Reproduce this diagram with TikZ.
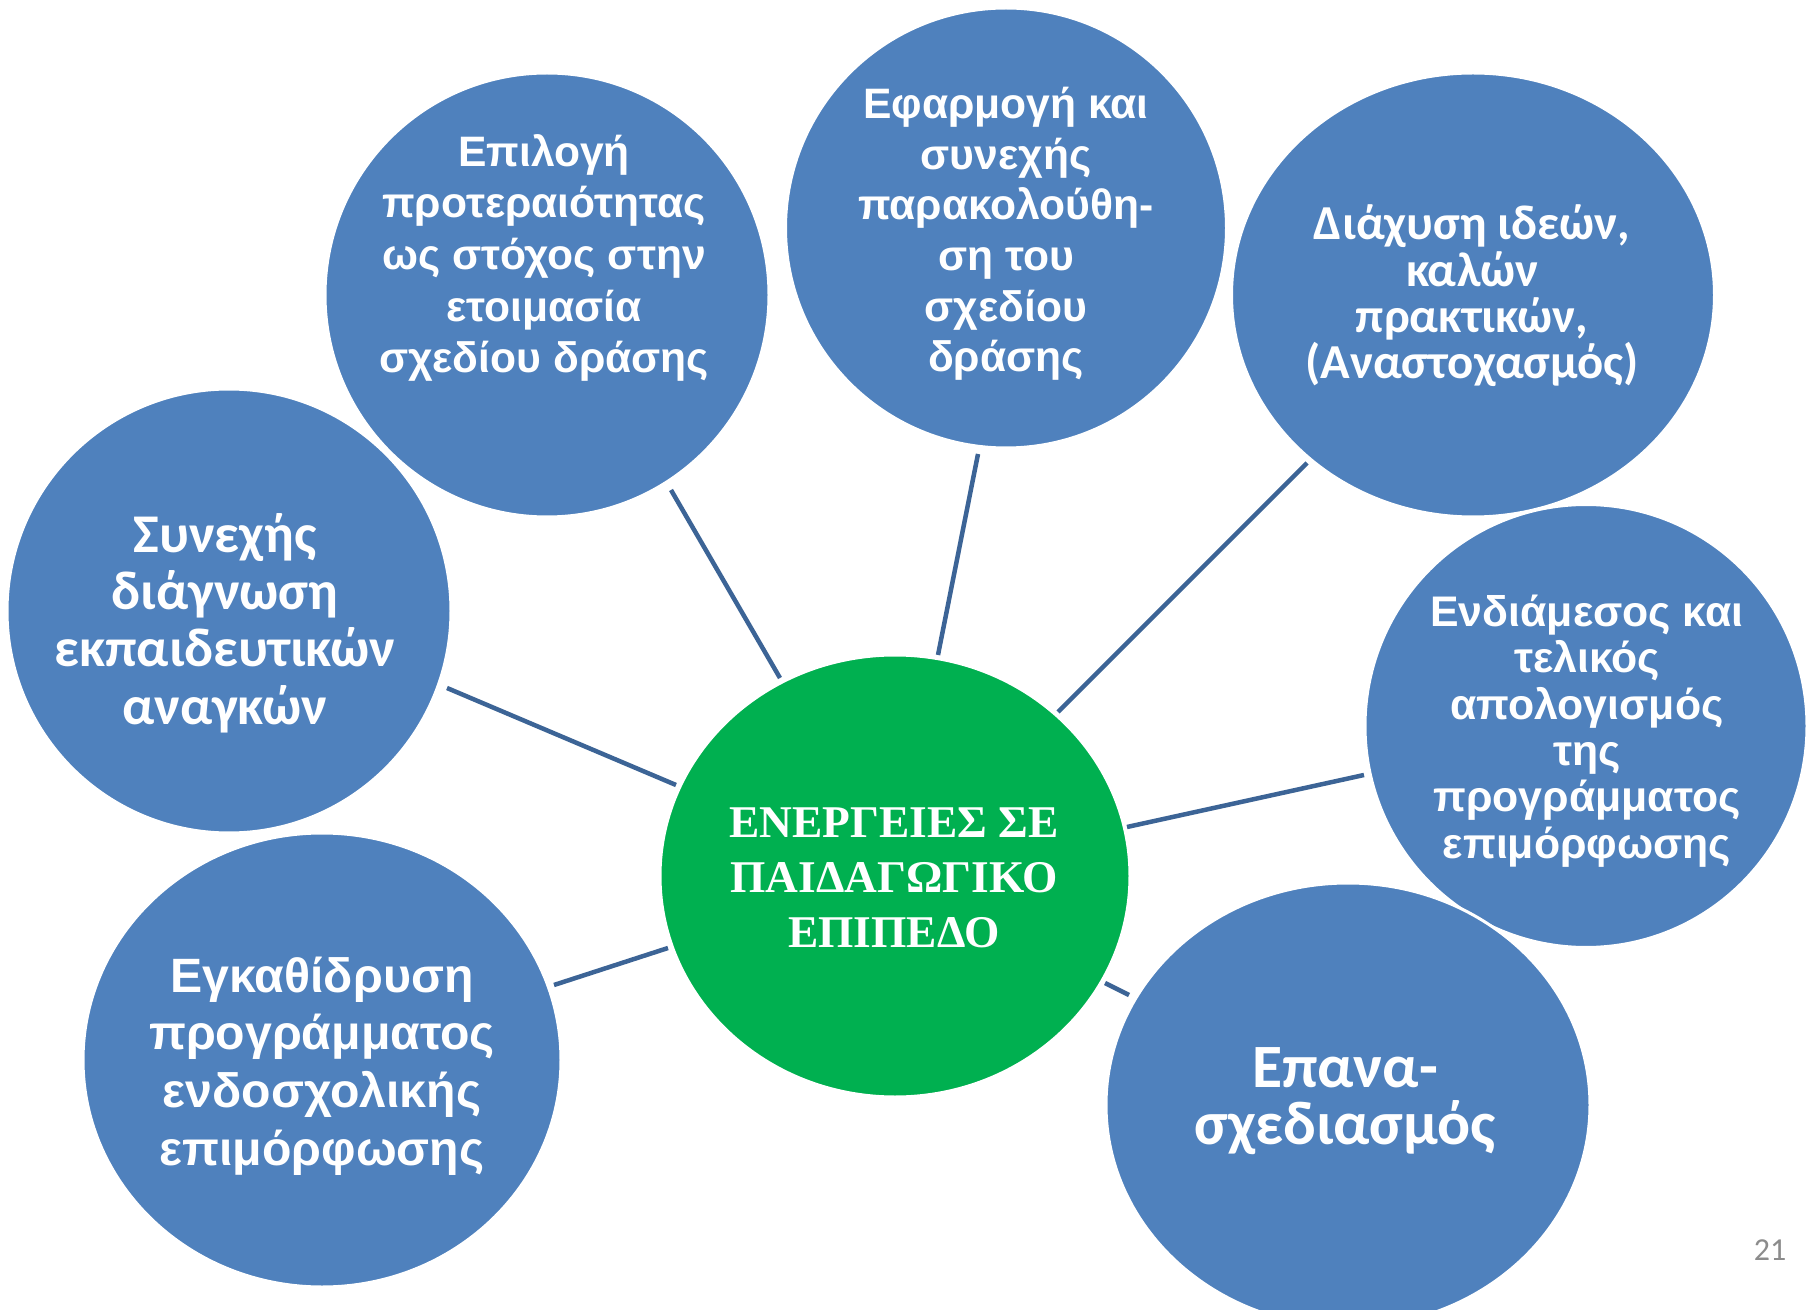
\documentclass[tikz,border=0pt]{standalone}
\usepackage{fontspec}
\setmainfont{Liberation Sans}
\newfontfamily\calib{Carlito}
\newfontfamily\timesf{Liberation Serif}
\usetikzlibrary{shapes.geometric}
\definecolor{bub}{HTML}{4F81BD}
\definecolor{grn}{HTML}{00B050}
\definecolor{lnk}{HTML}{3C6496}
\definecolor{pg}{HTML}{8C8C8C}
\begin{document}
\begin{tikzpicture}[x=0.5pt,y=-0.5pt,
  bubble/.style={ellipse, fill=bub, draw=white, line width=1.5pt, inner sep=0pt},
  hub/.style={ellipse, fill=grn, draw=white, line width=1.5pt, inner sep=0pt},
  txt/.style={text=white, align=center, inner sep=0pt},
  link/.style={draw=lnk, line width=2.25pt}]
\useasboundingbox (0,0) rectangle (1806,1310);
\fill[white] (0,0) rectangle (1806,1310);

% connector end points
\coordinate (a1) at (671,490);  \coordinate (b1) at (780,678);
\coordinate (a2) at (978,454);  \coordinate (b2) at (938,655);
\coordinate (a3) at (1307,463); \coordinate (b3) at (1058,712);
\coordinate (a4) at (1364,775); \coordinate (b4) at (1127,827);
\coordinate (a5) at (1129,995); \coordinate (b5) at (1105,983);
\coordinate (a6) at (554,985);  \coordinate (b6) at (668,948);
\coordinate (a7) at (447,688);  \coordinate (b7) at (676,785);

\foreach \i in {1,...,7} { \draw[link] (a\i) -- (b\i); }

% bubbles
\node[bubble, minimum width=444pt*0.5, minimum height=444pt*0.5] (c8) at (229,611) {};
\node[bubble, minimum width=478pt*0.5, minimum height=454pt*0.5] (c7) at (322,1060) {};
\node[bubble, minimum width=444pt*0.5, minimum height=444pt*0.5] (c2) at (547,295) {};
\node[bubble, minimum width=441pt*0.5, minimum height=440pt*0.5] (c3) at (1006,228) {};
\node[bubble, minimum width=483pt*0.5, minimum height=444pt*0.5] (c4) at (1473,295) {};
\node[bubble, minimum width=442pt*0.5, minimum height=443pt*0.5] (c5) at (1586,726) {};
\node[bubble, minimum width=484pt*0.5, minimum height=444pt*0.5] (c6) at (1348,1105) {};
\node[hub, minimum width=470pt*0.5, minimum height=442pt*0.5] (hub) at (895,876) {};

% texts
\node[txt, font=\bfseries\fontsize{21.3}{25.8}\selectfont] (t2) at (544,258)
  {Επιλογή\\προτεραιότητας\\ως στόχος στην\\ετοιμασία\\σχεδίου δράσης};
\node[txt, font=\bfseries\fontsize{21.3}{25.3}\selectfont] (t3) at (1006,234)
  {Εφαρμογή και\\συνεχής\\παρακολούθη-\\ση του\\σχεδίου\\δράσης};
\node[txt, font=\calib\bfseries\fontsize{24.4}{23.2}\selectfont] (t4) at (1472,296)
  {Διάχυση ιδεών,\\καλών\\πρακτικών,\\(Αναστοχασμός)};
\node[txt, font=\bfseries\fontsize{21.4}{23.2}\selectfont] (t5) at (1587,731)
  {Ενδιάμεσος και\\τελικός\\απολογισμός\\της\\προγράμματος\\επιμόρφωσης};
\node[txt, font=\calib\bfseries\fontsize{30.8}{28.8}\selectfont] (t6) at (1345,1101)
  {Επανα-\\σχεδιασμός};
\node[txt, font=\bfseries\fontsize{24.1}{28.8}\selectfont] (t7) at (322,1066)
  {Εγκαθίδρυση\\προγράμματος\\ενδοσχολικής\\επιμόρφωσης};
\node[txt, font=\calib\bfseries\fontsize{27.3}{28.6}\selectfont] (t8) at (225,623)
  {Συνεχής\\διάγνωση\\εκπαιδευτικών\\αναγκών};
\node[txt, font=\timesf\bfseries\fontsize{22.7}{27.4}\selectfont] (th) at (894,878)
  {ΕΝΕΡΓΕΙΕΣ ΣΕ\\ΠΑΙΔΑΓΩΓΙΚΟ\\ΕΠΙΠΕΔΟ};

\node[text=pg, font=\calib\fontsize{16}{16}\selectfont, inner sep=0pt] (pgno) at (1770,1250) {21};
\end{tikzpicture}
\end{document}
